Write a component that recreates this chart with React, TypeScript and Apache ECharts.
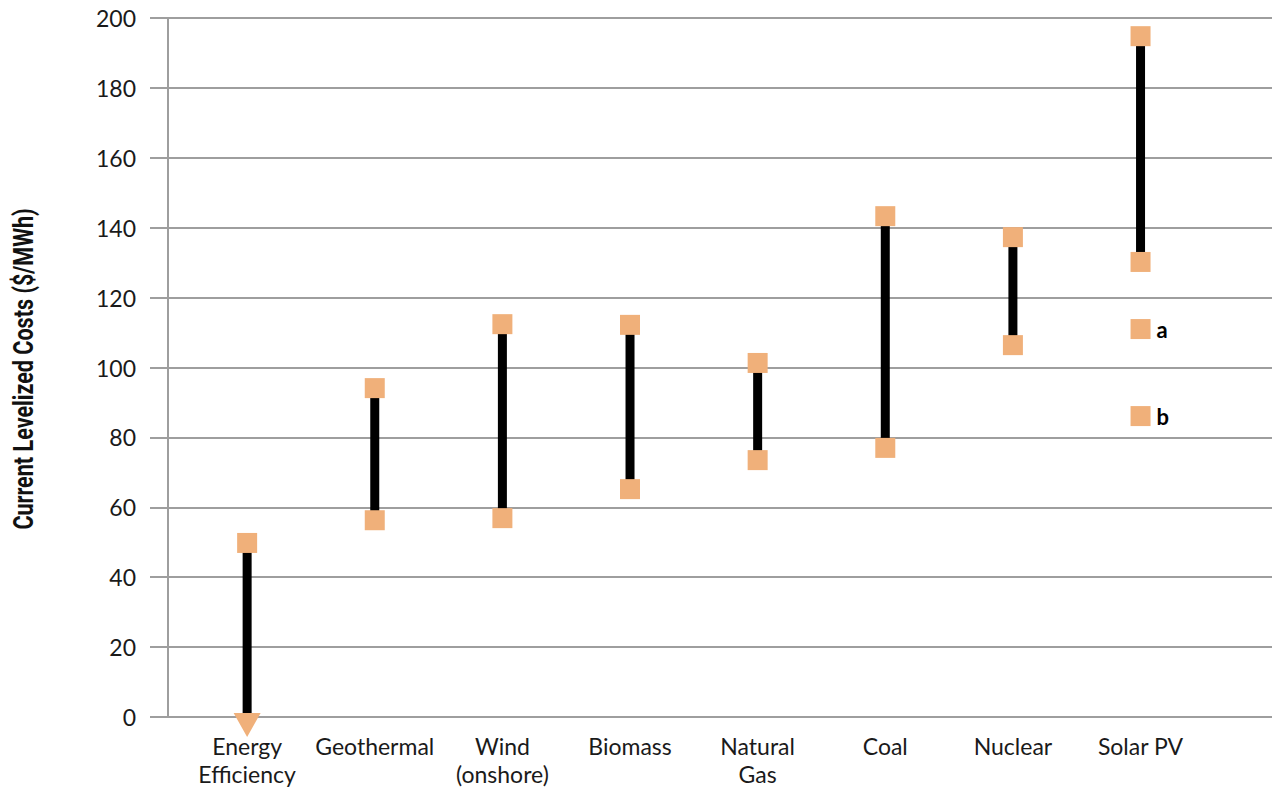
import React, { useEffect, useRef } from "react";
import * as echarts from "echarts";

const categories = [
  "Energy\nEfficiency",
  "Geothermal",
  "Wind\n(onshore)",
  "Biomass",
  "Natural\nGas",
  "Coal",
  "Nuclear",
  "Solar PV",
];
const lowCosts = [0, 56.3, 56.9, 65.2, 73.5, 77.0, 106.4, 130.2];
const highCosts = [49.8, 94.1, 112.4, 112.2, 101.3, 143.3, 137.3, 194.8];
const solarExtraLabels = ["a", "b"];
const solarExtraCosts = [111.0, 86.1];
const yTicks = { min: 0, max: 200, interval: 20 };

const ORANGE = "#F0B07A";
const GRID = "#9e9e9e";
const FONT = "Lato, 'Noto Sans', sans-serif";

export default function App() {
  const ref = useRef<HTMLDivElement>(null);
  useEffect(() => {
    if (!ref.current) return;
    const chart = echarts.init(ref.current, undefined, { renderer: "svg" });
    const positions = categories.map((_, i) => i + 1);
    const rangeData = positions.map((x, i) => [x, lowCosts[i], highCosts[i]]);
    const highData = positions.map((x, i) => [x, highCosts[i]]);
    const lowSquares = positions.slice(1).map((x, k) => [x, lowCosts[k + 1]]);
    const solarX = positions[positions.length - 1];
    const extraData = solarExtraCosts.map((v, i) => ({
      value: [solarX, v],
      name: solarExtraLabels[i],
    }));

    chart.setOption({
      animation: false,
      grid: { left: 168, right: 0, top: 18, bottom: 79, containLabel: false },
      xAxis: {
        type: "value",
        min: 0.38,
        max: 9.03,
        splitLine: { show: false },
        axisLine: { show: false },
        axisTick: { show: false },
        axisLabel: {
          customValues: positions,
          formatter: (v: number) => categories[Math.round(v) - 1] ?? "",
          fontFamily: FONT,
          fontSize: 23,
          lineHeight: 28,
          color: "#1a1a1a",
          margin: 15,
          showMinLabel: true,
          showMaxLabel: true,
        },
      },
      yAxis: {
        type: "value",
        min: yTicks.min,
        max: yTicks.max,
        interval: yTicks.interval,
        axisLine: { show: true, lineStyle: { color: GRID, width: 2 } },
        axisTick: { show: true, length: 18, lineStyle: { color: GRID, width: 2 } },
        splitLine: { show: true, lineStyle: { color: GRID, width: 2 } },
        axisLabel: {
          fontFamily: FONT,
          fontSize: 23,
          color: "#1a1a1a",
          margin: 32,
        },
      },
      graphic: [
        {
          type: "text",
          x: 23,
          y: 369,
          rotation: Math.PI / 2,
          scaleX: 0.77,
          style: {
            text: "Current Levelized Costs ($/MWh)",
            font: "bold 28px Roboto, 'Liberation Sans', sans-serif",
            fill: "#111",
            textAlign: "center",
            textVerticalAlign: "middle",
          },
        },
      ],
      series: [
        {
          type: "custom",
          data: rangeData,
          z: 2,
          renderItem: (params: any, api: any) => {
            const p1 = api.coord([api.value(0), api.value(1)]);
            const p2 = api.coord([api.value(0), api.value(2)]);
            return {
              type: "line",
              shape: { x1: p1[0], y1: p1[1], x2: p2[0], y2: p2[1] },
              style: { stroke: "#000", lineWidth: 9 },
            };
          },
        },
        {
          type: "scatter",
          data: highData,
          symbol: "rect",
          symbolSize: 20,
          itemStyle: { color: ORANGE, opacity: 1 },
          z: 5,
        },
        {
          type: "scatter",
          data: lowSquares,
          symbol: "rect",
          symbolSize: 20,
          itemStyle: { color: ORANGE, opacity: 1 },
          z: 5,
        },
        {
          type: "scatter",
          data: [[positions[0], lowCosts[0]]],
          symbol: "triangle",
          symbolRotate: 180,
          symbolSize: [27, 24],
          symbolOffset: [0, 8],
          itemStyle: { color: ORANGE, opacity: 1 },
          z: 5,
        },
        {
          type: "scatter",
          data: extraData,
          symbol: "rect",
          symbolSize: 20,
          itemStyle: { color: ORANGE, opacity: 1 },
          z: 5,
          label: {
            show: true,
            position: "right",
            distance: 6,
            formatter: (p: any) => p.name,
            fontFamily: FONT,
            fontWeight: "bold",
            fontSize: 22,
            color: "#000",
          },
        },
      ],
    });
    return () => chart.dispose();
  }, []);
  return (
    <div
      ref={ref}
      style={{ position: "fixed", left: 0, top: 0, width: 1272, height: 796, background: "#fff" }}
    />
  );
}
